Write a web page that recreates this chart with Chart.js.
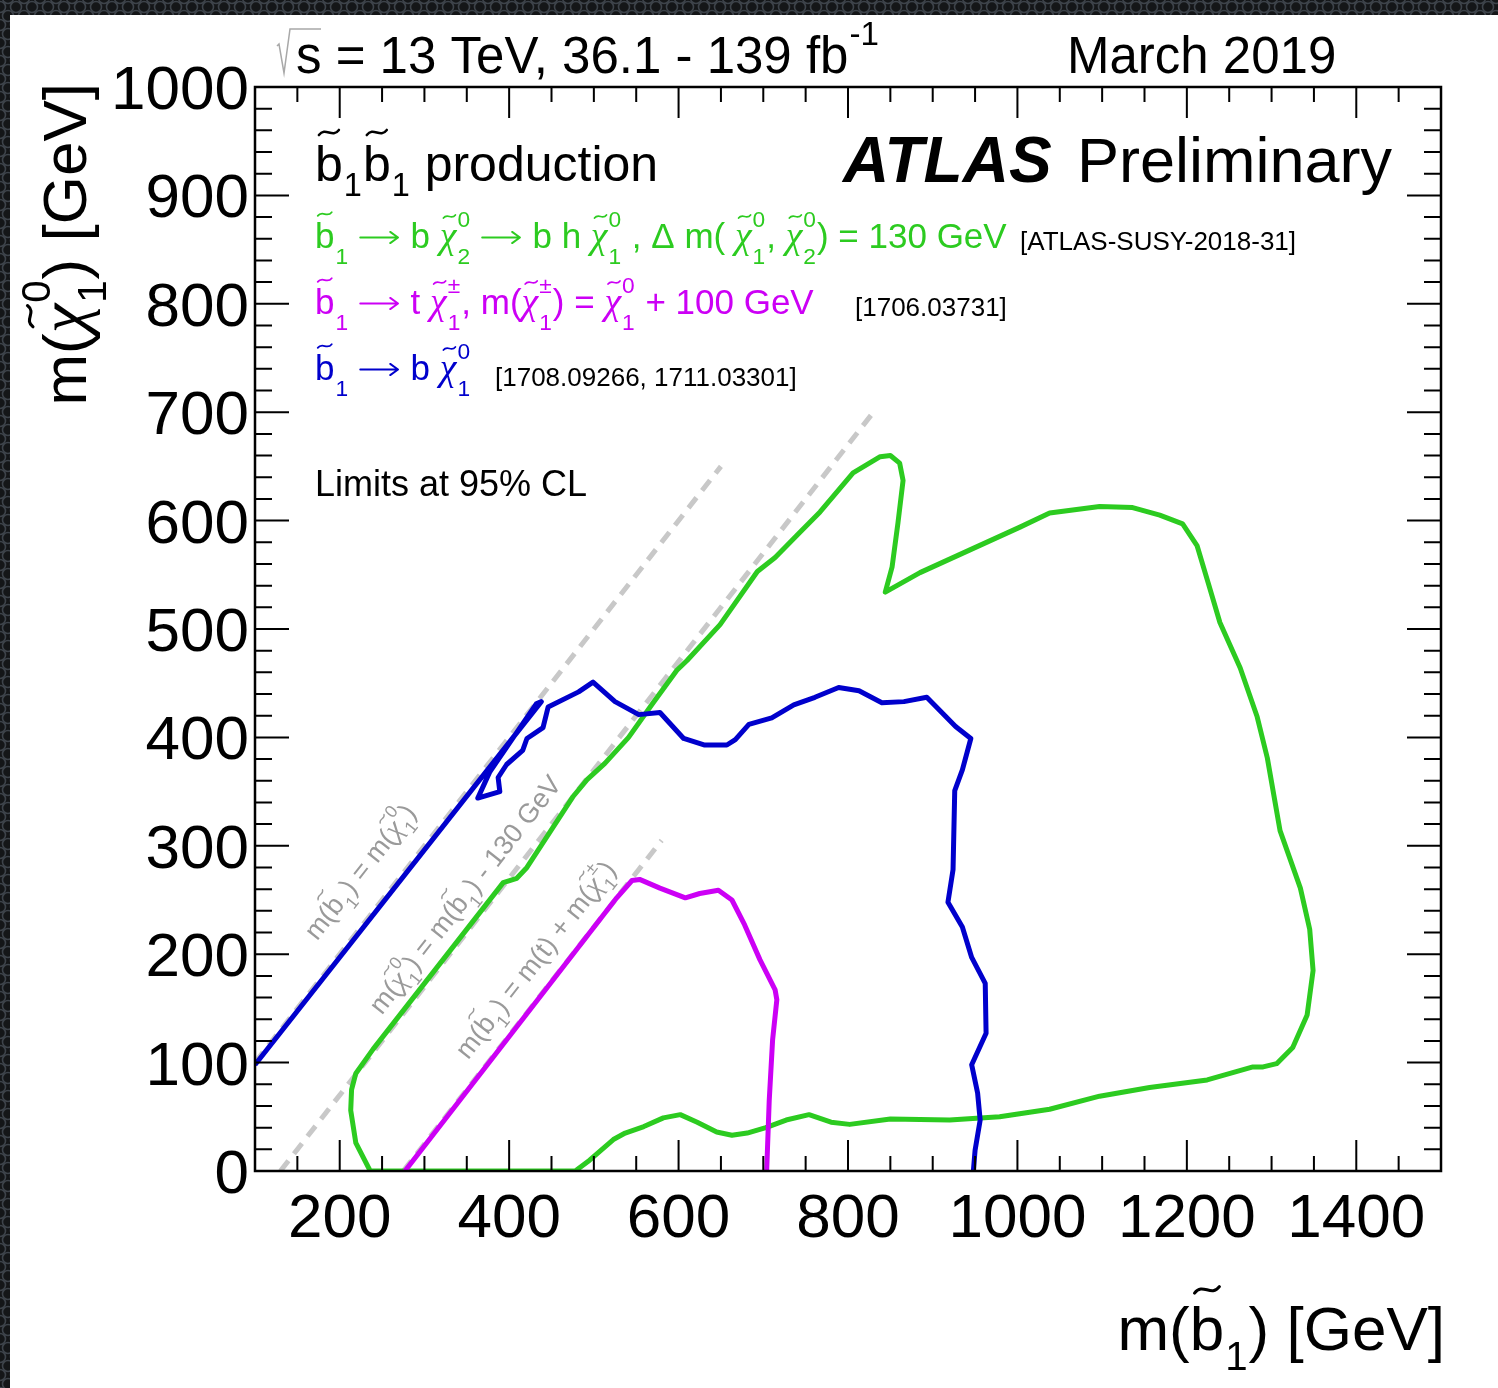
<!DOCTYPE html>
<html>
<head>
<meta charset="utf-8">
<title>Sbottom pair production limits</title>
<script src="https://cdn.jsdelivr.net/npm/chart.js@4.4.0/dist/chart.umd.min.js"></script>
<style>
  html, body { margin: 0; padding: 0; background: #fff; }
  canvas { display: block; }
</style>
</head>
<body>
<canvas id="limitChart" width="1498" height="1388"></canvas>
<script>
// m(sbottom) / m(neutralino) in GeV, contours at 95% CL
const greenX = [236, 219, 213, 214, 219, 239, 393, 409, 421, 475, 492, 513, 541, 570, 598, 610, 649, 693, 714, 743,
  767, 806, 838, 850, 861, 865, 859, 852, 844, 885, 944, 1003, 1038, 1097, 1136, 1168, 1195, 1212, 1225, 1239,
  1263, 1283, 1295, 1310, 1334, 1345, 1349, 1342, 1325, 1306, 1290, 1278, 1224, 1156, 1097, 1038, 979, 920, 850, 802,
  780, 754, 727, 703, 681, 663, 645, 622, 602, 582, 559, 537, 523, 495, 478, 236];
const greenY = [0, 26, 56, 75, 90, 112, 266, 270, 280, 345, 361, 376, 400, 432, 462, 471, 504, 553, 566, 589,
  608, 644, 659, 660, 653, 637, 598, 557, 534, 552, 573, 594, 607, 613, 612, 605, 597, 577, 543, 506,
  464, 419, 381, 314, 261, 223, 185, 144, 114, 99, 96, 96, 84, 77, 69, 57, 50, 47, 48, 43,
  45, 52, 47, 40, 35, 33, 36, 45, 52, 49, 41, 35, 29, 10, 0, 0];

const blueX = [100, 438, 432, 377, 363, 389, 387, 397, 416, 421, 440, 446, 482, 499, 525, 553, 578, 606, 630, 657,
  667, 683, 710, 736, 761, 789, 813, 840, 866, 893, 927, 945, 935, 926, 924, 918, 935, 946, 962, 963,
  946, 953, 956, 950, 948];
const blueY = [98, 433, 431, 368, 344, 350, 363, 375, 388, 399, 409, 428, 442, 451, 433, 421, 423, 399, 393, 393,
  398, 412, 418, 430, 437, 446, 443, 432, 433, 437, 410, 399, 370, 351, 278, 248, 225, 197, 173, 127,
  98, 72, 47, 19, 0];

const magentaX = [277, 527, 545, 554, 578, 608, 625, 647, 663, 678, 696, 714, 716, 711, 707, 704];
const magentaY = [0, 252, 268, 269, 261, 252, 256, 259, 250, 227, 195, 167, 158, 121, 65, 0];

// kinematic boundaries
const equalMassX = [100, 650];
const equalMassY = [100, 650];
const dm130X = [130, 832];
const dm130Y = [0, 702];
const topThreshX = [275, 580];
const topThreshY = [0, 305];

const xMajorTicks = [200, 400, 600, 800, 1000, 1200, 1400];
const yMajorTicks = [0, 100, 200, 300, 400, 500, 600, 700, 800, 900, 1000];

const FONT = '"Liberation Sans", "DejaVu Sans", Arial, sans-serif';
const GREEK = '"Liberation Serif", "DejaVu Serif", serif';
const GREEN = '#2ccb20';
const MAGENTA = '#cc00f5';
const BLUE = '#0000cc';
const GREY = '#c8c8c8';

const toPoints = (xs, ys) => xs.map((x, i) => ({ x: x, y: ys[i] }));

function drawTilde(ctx, cx, cy, w, lw) {
    const a = w * 0.13;
    ctx.save();
    ctx.lineWidth = lw;
    ctx.lineCap = 'round';
    ctx.beginPath();
    ctx.moveTo(cx - w / 2, cy + a);
    ctx.bezierCurveTo(cx - w / 6, cy - 2.4 * a, cx + w / 6, cy + 2.4 * a, cx + w / 2, cy - a);
    ctx.stroke();
    ctx.restore();
}

function drawArrow(ctx, x0, x1, y, size) {
    const lw = Math.max(1, size * 0.055);
    const h = size * 0.16;
    ctx.save();
    ctx.lineWidth = lw;
    ctx.lineCap = 'round';
    ctx.lineJoin = 'round';
    ctx.beginPath();
    ctx.moveTo(x0, y); ctx.lineTo(x1, y);
    ctx.moveTo(x1 - h * 1.4, y - h); ctx.lineTo(x1, y); ctx.lineTo(x1 - h * 1.4, y + h);
    ctx.stroke();
    ctx.restore();
}

// small TLatex-like renderer: plain strings, or {c, tl, sub, sup, greek, arrow}
function latex(ctx, parts, x, y, size, opt = {}) {
    const draw = opt.draw !== false;
    const style = opt.style || '';
    const subDy = opt.subDy || 0.38;
    const supDy = opt.supDy || 0.58;
    let cx = x;
    parts.forEach(p => {
        const tok = typeof p === 'string' ? { c: p } : p;
        if (tok.arrow) {
            if (draw) drawArrow(ctx, cx + size * 0.04, cx + size * 1.12, y - size * 0.3, size);
            cx += size * 1.2;
            return;
        }
        ctx.font = tok.greek ? `italic ${size * 1.08}px ${GREEK}` : `${style}${size}px ${FONT}`;
        const w = ctx.measureText(tok.c).width;
        if (draw) {
            ctx.fillText(tok.c, cx, y);
            if (tok.tl) {
                const tall = /[bdhkl]/.test(tok.c);
                drawTilde(ctx, cx + w / 2 + (tok.greek ? w * 0.08 : 0), y - size * (tall ? 0.97 : 0.9),
                    w * 0.72, Math.max(1, size * 0.05));
            }
        }
        cx += w;
        if (tok.sub || tok.sup) {
            const s = size * 0.65;
            ctx.font = `${s}px ${FONT}`;
            const ws = tok.sub ? ctx.measureText(tok.sub).width : 0;
            const wp = tok.sup ? ctx.measureText(tok.sup).width : 0;
            if (draw) {
                if (tok.sub) ctx.fillText(tok.sub, cx + 1, y + size * subDy);
                if (tok.sup) ctx.fillText(tok.sup, cx + 1, y - size * supDy);
            }
            cx += Math.max(ws, wp) + 2;
        }
    });
    return cx - x;
}

const sb = { c: 'b', tl: 1, sub: '1' };
const chi = (sub, sup) => ({ c: '\u03C7', greek: 1, tl: 1, sub: sub, sup: sup });
const ARROW = { arrow: 1 };

const atlasDecor = {
    id: 'atlasDecor',
    beforeDraw(chart) {
        const ctx = chart.ctx;
        const W = chart.width, H = chart.height;
        ctx.save();
        ctx.fillStyle = '#ffffff';
        ctx.fillRect(0, 0, W, H);
        // dark mesh frame along the top and left edges
        ctx.fillStyle = '#141618';
        ctx.fillRect(0, 0, W, 15);
        ctx.fillRect(0, 0, 10, H);
        ctx.beginPath();
        ctx.rect(0, 0, W, 15);
        ctx.rect(0, 15, 10, H);
        ctx.clip();
        ctx.strokeStyle = '#3d434a';
        ctx.lineWidth = 1.6;
        for (let row = 0; row * 9 < H + 10; row++) {
            const y = row * 9 - 2;
            const off = (row % 2) * 8;
            const xEnd = y < 20 ? W : 20;
            for (let x = -8 + off; x < xEnd; x += 16) {
                ctx.beginPath();
                ctx.arc(x, y, 5.5, 0, Math.PI * 2);
                ctx.stroke();
            }
        }
        ctx.restore();
    },
    afterDatasetsDraw(chart) {
        const ctx = chart.ctx;
        const { left, right, top, bottom } = chart.chartArea;
        const xs = chart.scales.x, ys = chart.scales.y;
        ctx.save();
        ctx.strokeStyle = '#000';
        ctx.lineWidth = 2;
        for (let v = 100; v <= 1500; v += 50) {
            const px = xs.getPixelForValue(v);
            const len = xMajorTicks.includes(v) ? 31 : 15;
            ctx.beginPath();
            ctx.moveTo(px, bottom); ctx.lineTo(px, bottom - len);
            ctx.moveTo(px, top); ctx.lineTo(px, top + len);
            ctx.stroke();
        }
        for (let v = 0; v <= 1000; v += 20) {
            const py = ys.getPixelForValue(v);
            const len = yMajorTicks.includes(v) ? 34 : 17;
            ctx.beginPath();
            ctx.moveTo(left, py); ctx.lineTo(left + len, py);
            ctx.moveTo(right, py); ctx.lineTo(right - len, py);
            ctx.stroke();
        }
        ctx.lineWidth = 2.5;
        ctx.strokeRect(left, top, right - left, bottom - top);
        ctx.restore();
    },
    afterDraw(chart) {
        const ctx = chart.ctx;
        const xs = chart.scales.x, ys = chart.scales.y;
        ctx.save();
        ctx.textBaseline = 'alphabetic';
        ctx.textAlign = 'left';
        ctx.fillStyle = '#000';
        ctx.strokeStyle = '#000';

        // tick labels
        ctx.font = `62px ${FONT}`;
        ctx.textAlign = 'center';
        xMajorTicks.forEach(v => ctx.fillText(String(v), xs.getPixelForValue(v), 1237));
        ctx.textAlign = 'right';
        yMajorTicks.forEach(v => ctx.fillText(String(v), 249, ys.getPixelForValue(v) + 22));
        ctx.textAlign = 'left';

        // axis titles
        const xt = [ 'm(', { c: 'b', tl: 1, sub: '1' }, ') [GeV]' ];
        const xw = latex(ctx, xt, 0, 0, 62, { draw: false });
        latex(ctx, xt, 1445 - xw, 1350, 62, { subDy: 0.32 });

        const yt = [ 'm(', chi('1', '0'), ') [GeV]' ];
        const yw = latex(ctx, yt, 0, 0, 62, { draw: false });
        ctx.save();
        ctx.translate(86, 83);
        ctx.rotate(-Math.PI / 2);
        latex(ctx, yt, -yw, 0, 62, { subDy: 0.32 });
        ctx.restore();

        // header
        ctx.save();
        ctx.strokeStyle = '#a8a8a8';
        ctx.lineWidth = 1.5;
        ctx.beginPath();
        ctx.moveTo(277, 46); ctx.lineTo(279, 44); ctx.lineTo(284, 73);
        ctx.lineTo(290, 29); ctx.lineTo(321, 29);
        ctx.stroke();
        ctx.restore();
        latex(ctx, ['s = 13 TeV, 36.1 - 139 fb', { c: '', sup: '-1' }], 296, 73, 51, { supDy: 0.55 });
        ctx.font = `51px ${FONT}`;
        ctx.fillText('March 2019', 1067, 73);

        ctx.font = `italic bold 64px ${FONT}`;
        ctx.fillText('ATLAS', 843, 182);
        ctx.font = `63px ${FONT}`;
        ctx.fillText('Preliminary', 1077, 182);

        latex(ctx, [sb, sb, ' production'], 315, 181, 50, { subDy: 0.3 });

        // legend lines
        const legendOpt = { subDy: 0.45, supDy: 0.6 };
        ctx.fillStyle = GREEN; ctx.strokeStyle = GREEN;
        latex(ctx, [sb, ' ', ARROW, ' b ', chi('2', '0'), ' ', ARROW, ' b h ', chi('1', '0'),
            ' , \u0394 m( ', chi('1', '0'), ', ', chi('2', '0'), ') = 130 GeV'], 315, 248, 35, legendOpt);
        ctx.fillStyle = MAGENTA; ctx.strokeStyle = MAGENTA;
        latex(ctx, [sb, ' ', ARROW, ' t ', chi('1', '\u00B1'), ', m(', chi('1', '\u00B1'), ') = ', chi('1', '0'),
            ' + 100 GeV'], 315, 314, 35, legendOpt);
        ctx.fillStyle = BLUE; ctx.strokeStyle = BLUE;
        latex(ctx, [sb, ' ', ARROW, ' b ', chi('1', '0')], 315, 380, 35, legendOpt);

        ctx.fillStyle = '#000';
        ctx.font = `26px ${FONT}`;
        ctx.fillText('[ATLAS-SUSY-2018-31]', 1020, 250);
        ctx.fillText('[1706.03731]', 855, 316);
        ctx.fillText('[1708.09266, 1711.03301]', 495, 386);

        ctx.font = `36px ${FONT}`;
        ctx.fillText('Limits at 95% CL', 315, 496);

        // labels along the kinematic boundaries
        const ang = Math.atan2(ys.getPixelForValue(600) - ys.getPixelForValue(200),
            xs.getPixelForValue(600) - xs.getPixelForValue(200));
        const diagLabels = [
            { at: [224, 276], parts: ['m(', sb, ') = m(', chi('1', '0'), ')'] },
            { at: [348, 255], parts: ['m(', chi('1', '0'), ') = m(', sb, ') - 130 GeV'] },
            { at: [431, 195], parts: ['m(', sb, ') = m(t) + m(', chi('1', '\u00B1'), ')'] }
        ];
        ctx.fillStyle = '#9a9a9a'; ctx.strokeStyle = '#9a9a9a';
        diagLabels.forEach(l => {
            const w = latex(ctx, l.parts, 0, 0, 27, { draw: false });
            ctx.save();
            ctx.translate(xs.getPixelForValue(l.at[0]), ys.getPixelForValue(l.at[1]));
            ctx.rotate(ang);
            latex(ctx, l.parts, -w / 2, 9, 27, { subDy: 0.35 });
            ctx.restore();
        });
        ctx.restore();
    }
};

const lineStyle = {
    showLine: true,
    pointRadius: 0,
    pointHoverRadius: 0,
    borderWidth: 5,
    tension: 0,
    fill: false,
    borderJoinStyle: 'round',
    borderCapStyle: 'butt'
};

const dashStyle = Object.assign({}, lineStyle, {
    borderColor: GREY,
    borderWidth: 5,
    borderDash: [13, 9],
    order: 5
});

new Chart(document.getElementById('limitChart'), {
    type: 'scatter',
    data: {
        datasets: [
            Object.assign({}, lineStyle, { label: 'b1 -> b chi1', data: toPoints(blueX, blueY), borderColor: BLUE, order: 0 }),
            Object.assign({}, lineStyle, { label: 'b1 -> t chi1+-', data: toPoints(magentaX, magentaY), borderColor: MAGENTA, order: 1 }),
            Object.assign({}, lineStyle, { label: 'b1 -> b chi2 -> b h chi1', data: toPoints(greenX, greenY), borderColor: GREEN, order: 2 }),
            Object.assign({}, dashStyle, { label: 'm(b1) = m(chi1)', data: toPoints(equalMassX, equalMassY) }),
            Object.assign({}, dashStyle, { label: 'dm = 130 GeV', data: toPoints(dm130X, dm130Y) }),
            Object.assign({}, dashStyle, { label: 'm(b1) = m(t) + m(chi1+-)', data: toPoints(topThreshX, topThreshY) })
        ]
    },
    options: {
        responsive: false,
        animation: false,
        devicePixelRatio: 1,
        layout: { padding: { left: 255, top: 87, right: 57, bottom: 217 } },
        plugins: {
            legend: { display: false },
            tooltip: { enabled: false }
        },
        scales: {
            x: { type: 'linear', min: 100, max: 1500, display: false },
            y: { type: 'linear', min: 0, max: 1000, display: false }
        }
    },
    plugins: [atlasDecor]
});
</script>
</body>
</html>
